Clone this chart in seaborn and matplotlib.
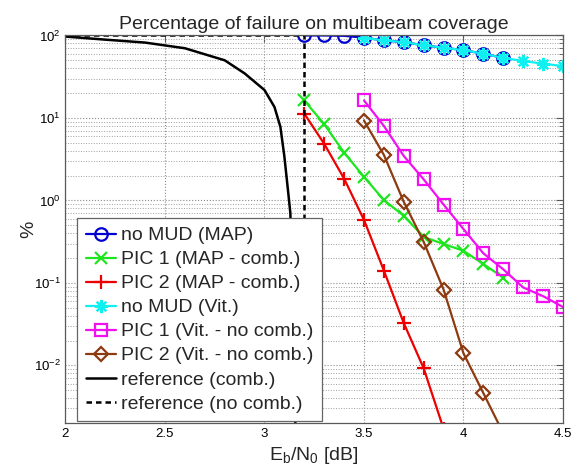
import matplotlib
matplotlib.use("Agg")
import matplotlib.pyplot as plt
import seaborn as sns
import pandas as pd
from matplotlib.ticker import LogLocator, NullFormatter

# ---------------- data ----------------
ebn0_map = [3.2, 3.3, 3.4, 3.5, 3.6, 3.7, 3.8, 3.9, 4.0, 4.1, 4.2]
nomud_map = [100, 100, 99, 94, 87, 83, 76, 71, 66.5, 60, 53.5]

ebn0_pic1_map = [3.2, 3.3, 3.4, 3.5, 3.6, 3.7, 3.8, 3.9, 4.0, 4.1, 4.2]
pic1_map = [16.3, 8.4, 3.8, 1.93, 1.01, 0.65, 0.36, 0.296, 0.245, 0.169, 0.116]

ebn0_pic2_map = [3.2, 3.3, 3.4, 3.5, 3.6, 3.7, 3.8, 3.9]
pic2_map = [11.3, 4.86, 1.84, 0.58, 0.141, 0.0325, 0.0092, 0.0017]

ebn0_vit = [3.5, 3.6, 3.7, 3.8, 3.9, 4.0, 4.1, 4.2, 4.3, 4.4, 4.5]
nomud_vit = [94, 87, 83, 76, 71, 66.5, 60, 53.5, 49, 45.5, 42.5]

ebn0_pic1_vit = [3.5, 3.6, 3.7, 3.8, 3.9, 4.0, 4.1, 4.2, 4.3, 4.4, 4.5]
pic1_vit = [16.3, 8.0, 3.46, 1.8, 0.89, 0.449, 0.228, 0.146, 0.088, 0.069, 0.051]

ebn0_pic2_vit = [3.5, 3.6, 3.7, 3.8, 3.9, 4.0, 4.1, 4.2]
pic2_vit = [9.3, 3.56, 0.96, 0.314, 0.083, 0.014, 0.0046, 0.0015]

ebn0_ref = [2.0, 2.2, 2.4, 2.6, 2.8, 2.9, 3.0, 3.05, 3.08, 3.1, 3.12, 3.13, 3.14, 3.155, 3.165]
ref_comb = [97, 89, 82, 70, 50, 34.7, 21.8, 13.6, 7.8, 3.4, 1.2, 0.7, 0.08, 0.002, 0.0005]

ebn0_ref_nc = [2.0, 3.2, 3.2]
ref_nocomb = [100, 100, 0.0001]

labels = ["no MUD (MAP)", "PIC 1 (MAP - comb.)", "PIC 2 (MAP - comb.)",
          "no MUD (Vit.)", "PIC 1 (Vit. - no comb.)", "PIC 2 (Vit. - no comb.)",
          "reference (comb.)", "reference (no comb.)"]

x_ticks = [2, 2.5, 3, 3.5, 4, 4.5]
x_tick_labels = ["2", "2.5", "3", "3.5", "4", "4.5"]

title = "Percentage of failure on multibeam coverage"
xlabel = r"$E_b/N_0$ [dB]"
ylabel = "%"

# ---------------- style ----------------
sns.set_style("white")
plt.rcParams["font.family"] = ["Liberation Sans", "DejaVu Sans"]
plt.rcParams["mathtext.fontset"] = "custom"
plt.rcParams["mathtext.rm"] = "Liberation Sans"
plt.rcParams["mathtext.it"] = "Liberation Sans:italic"
plt.rcParams["mathtext.default"] = "regular"

fig = plt.figure(figsize=(5.78, 4.68), dpi=100)
ax = fig.add_axes([0.1133, 0.0962, 0.8607, 0.8280])
ax.set_yscale("log")

series = [
    (ebn0_map, nomud_map, "#0000d0", "o", 9, labels[0]),
    (ebn0_pic1_map, pic1_map, "#1ee61e", "x", 8, labels[1]),
    (ebn0_pic2_map, pic2_map, "#ec0000", "+", 9.5, labels[2]),
    (ebn0_vit, nomud_vit, "#10f0f0", (8, 2, 0), 9.5, labels[3]),
    (ebn0_pic1_vit, pic1_vit, "#f010f0", "s", 8.5, labels[4]),
    (ebn0_pic2_vit, pic2_vit, "#8c3a10", "D", 7, labels[5]),
]

for xs, ys, col, mk, ms, lab in series:
    df = pd.DataFrame({"x": xs, "y": ys})
    sns.lineplot(data=df, x="x", y="y", ax=ax, color=col, marker=mk,
                 markersize=ms, markerfacecolor="none", markeredgecolor=col,
                 markeredgewidth=1.6, linewidth=1.6, label=lab,
                 estimator=None, sort=False, errorbar=None)

df_ref = pd.DataFrame({"x": ebn0_ref, "y": ref_comb})
sns.lineplot(data=df_ref, x="x", y="y", ax=ax, color="black", linewidth=1.8,
             label=labels[6], estimator=None, sort=False, errorbar=None)
df_refnc = pd.DataFrame({"x": ebn0_ref_nc, "y": ref_nocomb})
sns.lineplot(data=df_refnc, x="x", y="y", ax=ax, color="black", linewidth=1.8,
             linestyle=(0, (2.2, 1.6)), label=labels[7], estimator=None,
             sort=False, errorbar=None)

ax.set_xlim(2, 4.5)
ax.set_ylim(2e-3, 100)
ax.set_xticks(x_ticks)
ax.set_xticklabels(x_tick_labels)
ax.yaxis.set_major_locator(LogLocator(base=10, numticks=10))
ax.yaxis.set_minor_locator(LogLocator(base=10, subs=range(2, 10), numticks=20))
ax.yaxis.set_minor_formatter(NullFormatter())

ax.grid(True, which="major", linestyle=":", color="0.55", linewidth=0.8)
ax.grid(True, which="minor", axis="y", linestyle=":", color="0.62", linewidth=0.7)

for sp in ax.spines.values():
    sp.set_color("0.35")
    sp.set_linewidth(0.9)

ax.tick_params(which="both", direction="in", top=True, right=True,
               colors="0.35", labelcolor="black", labelsize=9.5)
ax.tick_params(which="major", length=5)
ax.tick_params(which="minor", length=3)

ax.set_title(title, fontsize=14, pad=5)
ax.set_xlabel(xlabel, fontsize=14, labelpad=4)
ax.set_ylabel(ylabel, fontsize=14, labelpad=-3)

handles, labs = ax.get_legend_handles_labels()
leg = ax.legend(handles, labs, loc="upper left", bbox_to_anchor=(0.023, 0.529),
                borderaxespad=0, fontsize=14, labelspacing=0.33,
                handlelength=1.55, handletextpad=0.25, borderpad=0.45,
                fancybox=False, framealpha=1, edgecolor="0.4")
leg.get_frame().set_linewidth(0.9)

fig.savefig("out.png", dpi=100)
